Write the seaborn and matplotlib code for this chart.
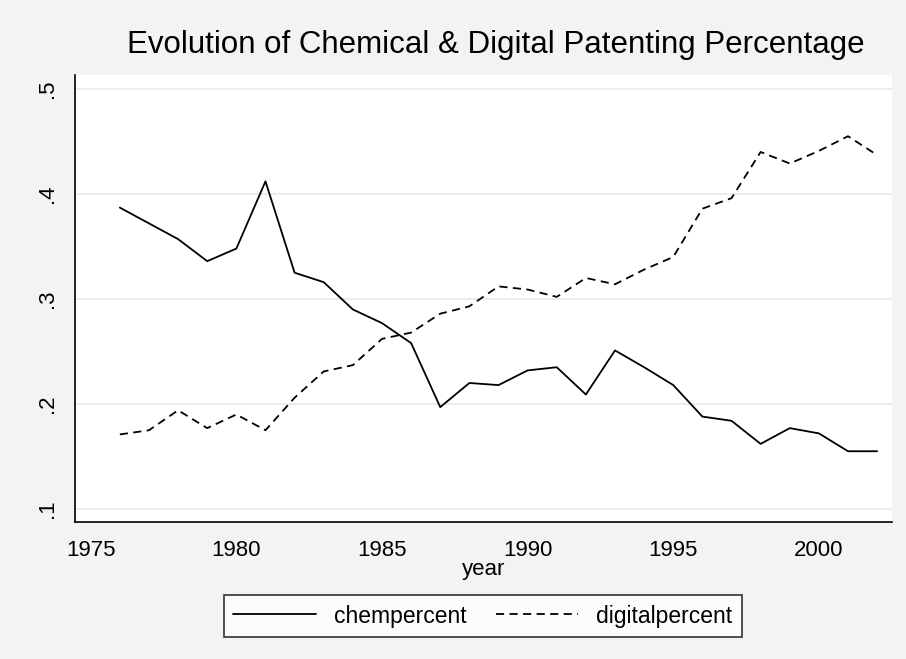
import numpy as np
import pandas as pd
import seaborn as sb
import matplotlib.pyplot as plt

years = list(range(1976, 2003))
chem = [0.387, 0.372, 0.357, 0.336, 0.348, 0.412, 0.325, 0.316, 0.290, 0.277,
        0.258, 0.197, 0.220, 0.218, 0.232, 0.235, 0.209, 0.251, 0.235, 0.218,
        0.188, 0.184, 0.162, 0.177, 0.172, 0.155, 0.155]
digital = [0.171, 0.175, 0.194, 0.177, 0.190, 0.175, 0.206, 0.231, 0.237, 0.262,
           0.268, 0.286, 0.293, 0.312, 0.309, 0.302, 0.320, 0.314, 0.328, 0.340,
           0.386, 0.396, 0.440, 0.429, 0.441, 0.455, 0.437]
xticks = [1975, 1980, 1985, 1990, 1995, 2000]
yticks = [0.1, 0.2, 0.3, 0.4, 0.5]
ytick_labels = ['.1', '.2', '.3', '.4', '.5']

sb.set_style('white')
plt.rcParams['font.family'] = ['Liberation Sans', 'DejaVu Sans']
plt.rcParams['text.color'] = 'black'
plt.rcParams['axes.labelcolor'] = 'black'
plt.rcParams['xtick.color'] = 'black'
plt.rcParams['ytick.color'] = 'black'

bg = '#f5f2f6'
fig = plt.figure(figsize=(9.06, 6.59), dpi=100, facecolor=bg)
ax = fig.add_axes([75/906, 1-521.7/659, (892-75)/906, (521.7-75)/659])
ax.set_facecolor('white')

df = pd.DataFrame({'year': years, 'chempercent': chem, 'digitalpercent': digital})
sb.lineplot(data=df, x='year', y='chempercent', color='black', lw=1.3,
            label='chempercent', ax=ax)
sb.lineplot(data=df, x='year', y='digitalpercent', color='black', lw=1.3,
            label='digitalpercent', ax=ax)
ax.lines[1].set_dashes((4.5, 3))

ax.set_xlim(1974.46, 2002.51)
ax.set_ylim(0.0879, 0.5133)
ax.set_xticks(xticks)
ax.set_yticks(yticks)
ax.set_yticklabels(ytick_labels, rotation=90, va='center')
ax.tick_params(axis='both', labelsize=16, length=6, width=1, direction='out', pad=6)
ax.tick_params(axis='x', pad=7)
for y in yticks:
    ax.axhline(y, color='#ece9ed', lw=1.3, zorder=0)
ax.grid(False)

for s in ['top', 'right']:
    ax.spines[s].set_visible(False)
for s in ['left', 'bottom']:
    ax.spines[s].set_color('black')
    ax.spines[s].set_linewidth(1.2)

ax.set_xlabel('year', fontsize=16, labelpad=-1)
ax.set_ylabel('')

fig.text(496/906, 1-45/659, 'Evolution of Chemical & Digital Patenting Percentage',
         ha='center', va='center', fontsize=22.5)

ax.get_legend().remove()
h, l = ax.get_legend_handles_labels()
leg = fig.legend(h, l, ncol=2, loc='center', bbox_to_anchor=(483/906, 1-616/659),
                 frameon=True, fancybox=False, edgecolor='black', fontsize=16.5,
                 handlelength=3.6, columnspacing=1.25, borderpad=0.42,
                 handletextpad=0.8)
leg.get_frame().set_linewidth(1.2)
leg.get_frame().set_facecolor('white')

fig.savefig('out.png', dpi=100, facecolor=bg)
